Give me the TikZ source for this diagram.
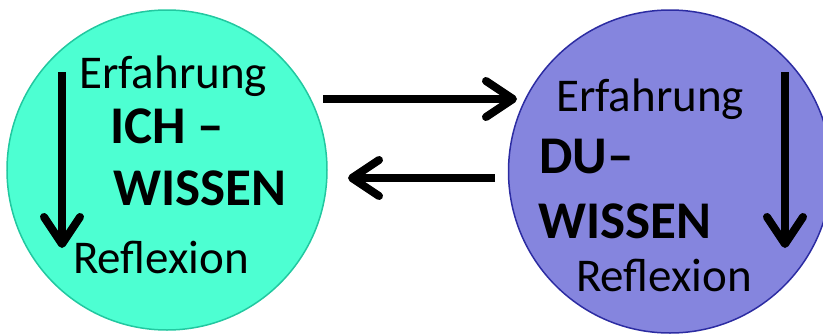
\documentclass[tikz,border=0pt]{standalone}
\usepackage{fontspec}
\setmainfont{Carlito}
\usetikzlibrary{arrows.meta}

\definecolor{ichfill}{HTML}{4DFFD2}
\definecolor{ichline}{HTML}{22C8A0}
\definecolor{dufill}{HTML}{8585DE}
\definecolor{duline}{HTML}{2C2CA2}

\tikzset{
  bubble/.style={circle, draw, line width=1.5pt, inner sep=0pt},
  plain/.style={anchor=base west, inner sep=0pt, font=\fontsize{47}{47}\selectfont},
  heavy/.style={anchor=base west, inner sep=0pt, font=\fontsize{53}{53}\selectfont\bfseries},
  flow/.style={line width=8pt,
    -{Straight Barb[length=27pt, width=36pt, round]}},
}

\begin{document}
\begin{tikzpicture}[x=1pt, y=-1pt]
  \useasboundingbox (0,0) rectangle (823,335);

  % the two circles
  \node[bubble, fill=ichfill, draw=ichline, minimum size=320pt] (ich) at (167,170) {};
  \node[bubble, fill=dufill, draw=duline, minimum size=323pt] (du) at (670,171.5) {};

  % ICH side
  \node[plain] (ichE) at (79,88) {Erfahrung};
  \node[heavy] (ichA) at (110,143) {ICH –};
  \node[heavy] (ichB) at (113,205) {WISSEN};
  \node[plain] (ichR) at (73,273) {Reflexion};
  \coordinate (ichTop) at (62,72);
  \coordinate (ichBot) at (62,248);
  \draw[flow] (ichTop) -- (ichBot);

  % DU side
  \node[plain] (duE) at (556,111) {Erfahrung};
  \node[heavy] (duA) at (539,173) {DU–};
  \node[heavy] (duB) at (538,238) {WISSEN};
  \node[plain] (duR) at (576,291) {Reflexion};
  \coordinate (duTop) at (785,72);
  \coordinate (duBot) at (785,248);
  \draw[flow] (duTop) -- (duBot);

  % exchange between the two
  \coordinate (toA) at (323,99);
  \coordinate (toB) at (517,99);
  \coordinate (backA) at (495,178);
  \coordinate (backB) at (348,178);
  \draw[flow] (toA) -- (toB);
  \draw[flow] (backA) -- (backB);
\end{tikzpicture}
\end{document}
